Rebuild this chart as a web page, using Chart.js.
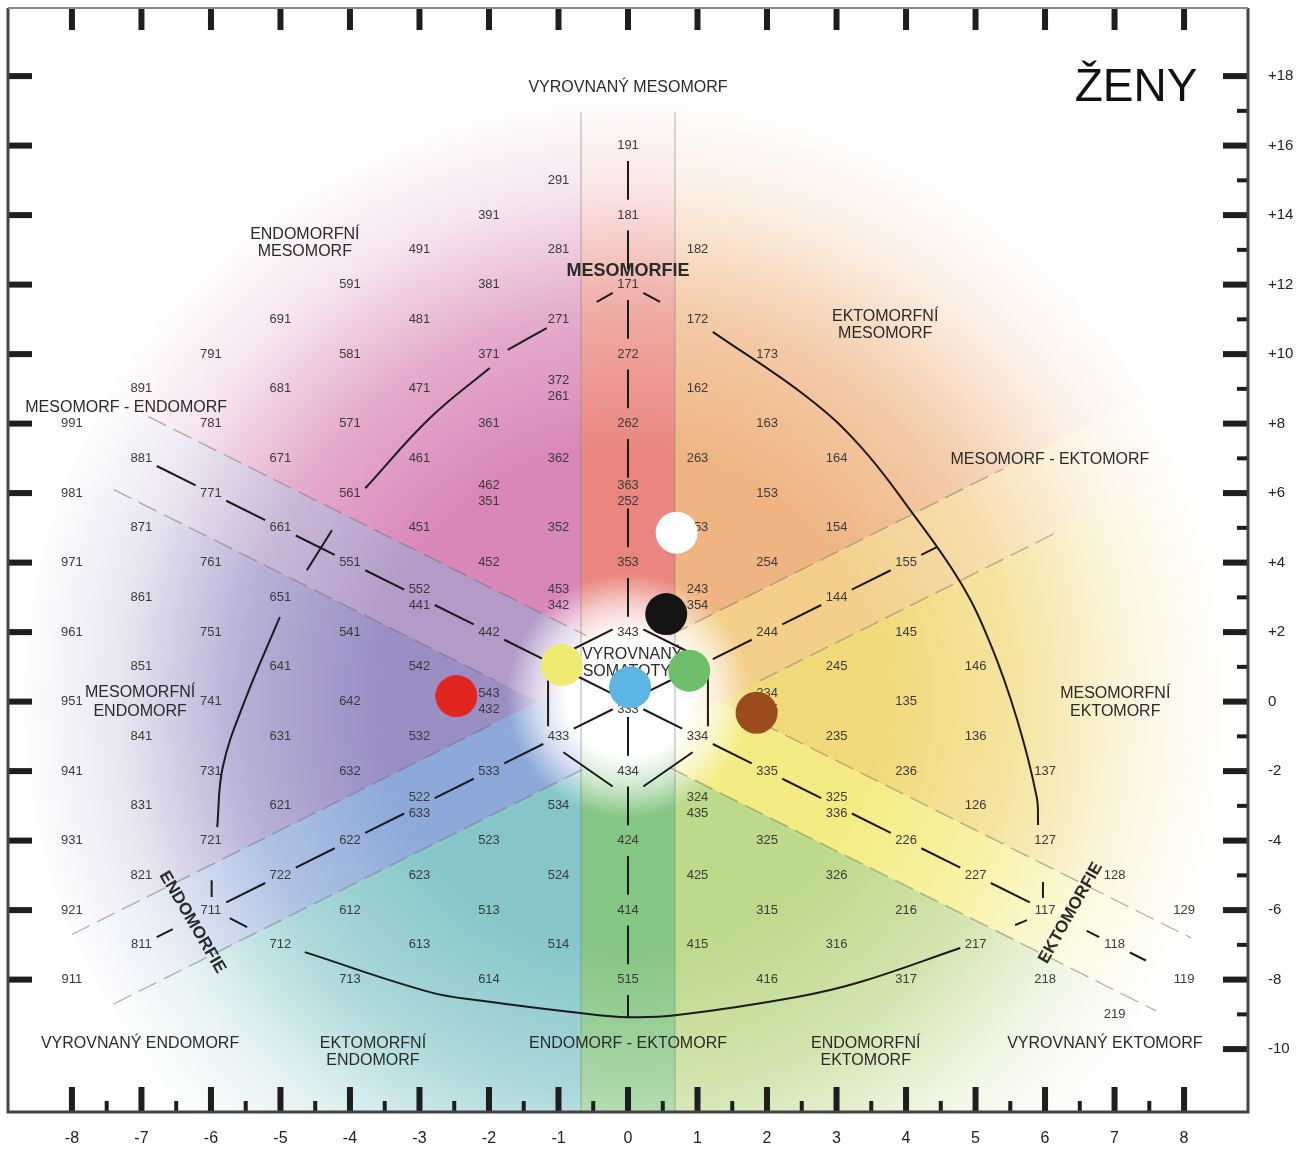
<!DOCTYPE html>
<html>
<head>
<meta charset="utf-8">
<script src="https://cdn.jsdelivr.net/npm/chart.js@4.4.1/dist/chart.umd.min.js"></script>
<style>
  html, body { margin: 0; padding: 0; background: #fff; }
  #wrap { width: 1299px; height: 1149px; position: relative; }
</style>
</head>
<body>
<div id="wrap"><canvas id="chart"></canvas></div>
<script>
const FONT = "'Liberation Sans', Arial, sans-serif";
const X_MIN = -8.92, X_MAX = 8.92;
const Y_MIN = -11.81, Y_MAX = 19.96;
const LABEL_GAP = 0.22;

// axis ticks
const xTickValues = [-8, -7, -6, -5, -4, -3, -2, -1, 0, 1, 2, 3, 4, 5, 6, 7, 8];
const xMinorTicks = [-7.5, -6.5, -5.5, -4.5, -3.5, -2.5, -1.5, -0.5, 0.5, 1.5, 2.5, 3.5, 4.5, 5.5, 6.5, 7.5];
const yTickValues = [18, 16, 14, 12, 10, 8, 6, 4, 2, 0, -2, -4, -6, -8, -10];
const yTickLabels = ["+18", "+16", "+14", "+12", "+10", "+8", "+6", "+4", "+2", "0", "-2", "-4", "-6", "-8", "-10"];
const yMinorTicks = [17, 15, 13, 11, 9, 7, 5, 3, 1, -1, -3, -5, -7, -9];
const leftTickValues = [18, 16, 14, 12, 10, 8, 6, 4, 2, 0, -2, -4, -6, -8];

// measured somatotypes (the coloured dots)
const subjectX = [0.70, 0.55, -0.95, 0.88, 0.03, -2.47, 1.85];
const subjectY = [4.86, 2.52, 1.05, 0.89, 0.41, 0.16, -0.32];
const subjectColors = ["#ffffff", "#141414", "#eeeb70", "#6dbf6b", "#5cb5e3", "#e1251f", "#9c4b1d"];

// somatotype codes printed on the grid: [code, x, y]
const somatotypes = [
  ["191", 0, 16],
  ["291", -1, 15],
  ["391", -2, 14], ["181", 0, 14],
  ["491", -3, 13], ["281", -1, 13], ["182", 1, 13],
  ["591", -4, 12], ["381", -2, 12], ["171", 0, 12],
  ["691", -5, 11], ["481", -3, 11], ["271", -1, 11], ["172", 1, 11],
  ["791", -6, 10], ["581", -4, 10], ["371", -2, 10], ["272", 0, 10], ["173", 2, 10],
  ["891", -7, 9], ["681", -5, 9], ["471", -3, 9], ["372", -1, 9.23], ["261", -1, 8.77], ["162", 1, 9],
  ["991", -8, 8], ["781", -6, 8], ["571", -4, 8], ["361", -2, 8], ["262", 0, 8], ["163", 2, 8],
  ["881", -7, 7], ["671", -5, 7], ["461", -3, 7], ["362", -1, 7], ["263", 1, 7], ["164", 3, 7],
  ["981", -8, 6], ["771", -6, 6], ["561", -4, 6], ["462", -2, 6.23], ["351", -2, 5.77], ["363", 0, 6.23], ["252", 0, 5.77], ["153", 2, 6],
  ["871", -7, 5], ["661", -5, 5], ["451", -3, 5], ["352", -1, 5], ["253", 1, 5], ["154", 3, 5],
  ["971", -8, 4], ["761", -6, 4], ["551", -4, 4], ["452", -2, 4], ["353", 0, 4], ["254", 2, 4], ["155", 4, 4],
  ["861", -7, 3], ["651", -5, 3], ["552", -3, 3.23], ["441", -3, 2.77], ["453", -1, 3.23], ["342", -1, 2.77], ["243", 1, 3.23], ["354", 1, 2.77], ["144", 3, 3],
  ["961", -8, 2], ["751", -6, 2], ["541", -4, 2], ["442", -2, 2], ["343", 0, 2], ["244", 2, 2], ["145", 4, 2],
  ["851", -7, 1], ["641", -5, 1], ["542", -3, 1], ["443", -1, 1], ["344", 1, 1], ["245", 3, 1], ["146", 5, 1],
  ["951", -8, 0], ["741", -6, 0], ["642", -4, 0], ["543", -2, 0.23], ["432", -2, -0.23], ["444", 0, 0.23], ["333", 0, -0.23], ["234", 2, 0.23], ["345", 2, -0.23], ["135", 4, 0],
  ["841", -7, -1], ["631", -5, -1], ["532", -3, -1], ["433", -1, -1], ["334", 1, -1], ["235", 3, -1], ["136", 5, -1],
  ["941", -8, -2], ["731", -6, -2], ["632", -4, -2], ["533", -2, -2], ["434", 0, -2], ["335", 2, -2], ["236", 4, -2], ["137", 6, -2],
  ["831", -7, -3], ["621", -5, -3], ["522", -3, -2.77], ["633", -3, -3.23], ["534", -1, -3], ["324", 1, -2.77], ["435", 1, -3.23], ["325", 3, -2.77], ["336", 3, -3.23], ["126", 5, -3],
  ["931", -8, -4], ["721", -6, -4], ["622", -4, -4], ["523", -2, -4], ["424", 0, -4], ["325", 2, -4], ["226", 4, -4], ["127", 6, -4],
  ["821", -7, -5], ["722", -5, -5], ["623", -3, -5], ["524", -1, -5], ["425", 1, -5], ["326", 3, -5], ["227", 5, -5], ["128", 7, -5],
  ["921", -8, -6], ["711", -6, -6], ["612", -4, -6], ["513", -2, -6], ["414", 0, -6], ["315", 2, -6], ["216", 4, -6], ["117", 6, -6], ["129", 8, -6],
  ["811", -7, -7], ["712", -5, -7], ["613", -3, -7], ["514", -1, -7], ["415", 1, -7], ["316", 3, -7], ["217", 5, -7], ["118", 7, -7],
  ["911", -8, -8], ["713", -4, -8], ["614", -2, -8], ["515", 0, -8], ["416", 2, -8], ["317", 4, -8], ["218", 6, -8], ["119", 8, -8],
  ["219", 7, -9],
];

// region names: [text, x, y, kind]
const regionLabels = [
  ["VYROVNANÝ MESOMORF", 0, 17.68, "region"],
  ["ENDOMORFNÍ", -4.65, 13.45, "region"], ["MESOMORF", -4.65, 12.94, "region"],
  ["MESOMORFIE", 0, 12.39, "axis"],
  ["EKTOMORFNÍ", 3.7, 11.09, "region"], ["MESOMORF", 3.7, 10.58, "region"],
  ["MESOMORF - ENDOMORF", -7.22, 8.47, "region"],
  ["MESOMORF - EKTOMORF", 6.07, 6.97, "region"],
  ["MESOMORFNÍ", -7.02, 0.26, "region"], ["ENDOMORF", -7.02, -0.28, "region"],
  ["MESOMORFNÍ", 7.01, 0.24, "region"], ["EKTOMORF", 7.01, -0.3, "region"],
  ["VYROVNANÝ", 0.06, 1.34, "region"], ["SOMATOTYP", 0.06, 0.85, "region"],
  ["VYROVNANÝ ENDOMORF", -7.02, -9.83, "region"],
  ["EKTOMORFNÍ", -3.67, -9.83, "region"], ["ENDOMORF", -3.67, -10.34, "region"],
  ["ENDOMORF - EKTOMORF", 0, -9.83, "region"],
  ["ENDOMORFNÍ", 3.42, -9.83, "region"], ["EKTOMORF", 3.42, -10.34, "region"],
  ["VYROVNANÝ EKTOMORF", 6.86, -9.83, "region"],
];
const rotatedLabels = [
  ["ENDOMORFIE", -6.27, -6.35, 59.5],
  ["EKTOMORFIE", 6.37, -6.08, -60.5],
];

// guide axes through the label nodes (null = break, third value 0 = not a label)
const axisVertical = [[0, 16], [0, 14], [0, 12], [0, 10], [0, 8], [0, 6], [0, 4], [0, 2], null,
  [0, 0], [0, -2], [0, -4], [0, -6], [0, -8], [0, -9.08, 0]];
const axisFalling = [[-7, 7], [-6, 6], [-5, 5], [-4, 4], [-3, 3], [-2, 2], [-1, 1], [0, 0], [1, -1],
  [2, -2], [3, -3], [4, -4], [5, -5], [6, -6], null, [6.6, -6.6, 0], [7, -7], [7.45, -7.45, 0]];
const axisRising = [[-7, -7], [-6.55, -6.55, 0], null, [-6, -6], [-5, -5], [-4, -4], [-3, -3], [-2, -2],
  [-1, -1], [0, 0], [1, 1], [2, 2], [3, 3], [4, 4], [4.45, 4.45, 0]];
const hexagon = [[0, 2.3], [-1.15, 1.15], [-1.15, -1.15], [0, -2.75], [1.15, -1.15], [1.15, 1.15], [0, 2.3]];

// boundary arcs (null = gap at a label)
const arcMesoEndo = [[-0.22, 11.76], [-0.45, 11.5], null,
  [-1.17, 10.75], [-1.73, 10.12], null,
  [-1.99, 9.6], [-2.85, 8.16], [-3.78, 6.14], null,
  [-4.26, 4.93], [-4.62, 3.78], null,
  [-5.01, 2.43], [-5.51, 0.04], [-5.83, -1.88], [-5.91, -3.61], null,
  [-5.99, -5.14], [-5.99, -5.62]];
const arcMesoEcto = [[0.22, 11.76], [0.46, 11.5], null,
  [1.22, 10.64], [2.58, 8.76], [3.34, 7.35], [4.06, 5.51], [4.78, 3.44], [5.21, 1.68], [5.6, -0.53], [5.88, -2.75], [5.9, -3.55], null,
  [5.97, -5.19], [5.97, -5.65]];
const arcEndoEcto = [[-5.73, -6.23], [-5.48, -6.49], null,
  [-4.65, -7.21], [-2.85, -8.36], [-2.13, -8.6], [-0.69, -8.96], [0, -9.08], [0.71, -9.02], [2.43, -8.5], [3.34, -8.07], [4.78, -7.09], null,
  [5.57, -6.43], [5.74, -6.29]];

// dashed grey band edges
const bandEdges = [
  [[-6.9, 8.2], [-0.6, 1.9]], [[-7.4, 6.1], [-1.9, 0.6]],
  [[1.9, -0.6], [8.1, -6.8]], [[0.6, -1.9], [7.6, -8.9]],
  [[-8.0, -6.7], [-1.9, -0.6]], [[-7.4, -8.7], [-0.6, -1.9]],
  [[0.6, 1.9], [5.4, 6.7]], [[1.9, 0.6], [6.2, 4.9]],
];

// colour fields of the somatochart
const sectorFills = [
  [[[0, 0], [0, 40], [-40, 40]], "#d986b8"],
  [[[0, 0], [-40, 40], [-40, -40]], "#9a8ec5"],
  [[[0, 0], [-40, -40], [0, -40]], "#86c6ca"],
  [[[0, 0], [0, -40], [40, -40]], "#bdd98a"],
  [[[0, 0], [40, -40], [40, 40]], "#f1d979"],
  [[[0, 0], [40, 40], [0, 40]], "#efb482"],
  [[[0.65, 0.65], [-40, 41.3], [-40, 38.7], [-0.65, -0.65]], "#b39ac8"],
  [[[0.65, 0.65], [40, -38.7], [40, -41.3], [-0.65, -0.65]], "#f4ec82"],
  [[[-0.65, 0.65], [-40, -38.7], [-40, -41.3], [0.65, -0.65]], "#8ea8d9"],
  [[[-0.65, 0.65], [40, 41.3], [40, 38.7], [0.65, -0.65]], "#f3cf8a"],
  [[[-0.676, 0], [0.676, 0], [0.676, 40], [-0.676, 40]], "#ea867f"],
  [[[-0.676, 0], [0.676, 0], [0.676, -40], [-0.676, -40]], "#86c684"],
];

function toSegments(nodes) {
  const out = [];
  for (let i = 0; i < nodes.length - 1; i++) {
    const a = nodes[i], b = nodes[i + 1];
    if (!a || !b) continue;
    const dx = b[0] - a[0], dy = b[1] - a[1];
    const steps = Math.max(Math.abs(dx), Math.abs(dy) / 2);
    const t0 = a[2] === 0 ? 0 : LABEL_GAP / steps;
    const t1 = b[2] === 0 ? 1 : 1 - LABEL_GAP / steps;
    out.push({ x: a[0] + dx * t0, y: a[1] + dy * t0 },
             { x: a[0] + dx * t1, y: a[1] + dy * t1 },
             { x: null, y: null });
  }
  return out;
}

const toPoints = (arr) => arr.map((p) => (p ? { x: p[0], y: p[1] } : { x: null, y: null }));

// scales keep their own label padding out of the layout
function fixScale(s, key, size) {
  s[key] = size;
  s.paddingTop = 0;
  s.paddingBottom = 0;
  s.paddingLeft = 0;
  s.paddingRight = 0;
}

const somatoPlugin = {
  id: "somatochart",
  beforeDraw(chart) {
    const { ctx, width, height } = chart;
    ctx.save();
    ctx.fillStyle = "#ffffff";
    ctx.fillRect(0, 0, width, height);
    ctx.restore();
  },
  beforeDatasetsDraw(chart) {
    const { ctx, chartArea: a, scales: { x, y } } = chart;
    const px = (p) => [x.getPixelForValue(p[0]), y.getPixelForValue(p[1])];
    ctx.save();
    ctx.beginPath();
    ctx.rect(a.left, a.top, a.right - a.left, a.bottom - a.top);
    ctx.clip();

    sectorFills.forEach(([pts, color]) => {
      ctx.beginPath();
      pts.forEach((p, i) => {
        const [u, v] = px(p);
        if (i === 0) ctx.moveTo(u, v); else ctx.lineTo(u, v);
      });
      ctx.closePath();
      ctx.fillStyle = color;
      ctx.fill();
    });

    // fade out to white towards the rim
    const [cx, cy] = px([0, 0]);
    const fade = ctx.createRadialGradient(cx, cy, 0, cx, cy, 640);
    fade.addColorStop(0, "rgba(255,255,255,0)");
    fade.addColorStop(250 / 640, "rgba(255,255,255,0)");
    fade.addColorStop(390 / 640, "rgba(255,255,255,0.3)");
    fade.addColorStop(510 / 640, "rgba(255,255,255,0.78)");
    fade.addColorStop(610 / 640, "rgba(255,255,255,1)");
    fade.addColorStop(1, "rgba(255,255,255,1)");
    ctx.fillStyle = fade;
    ctx.fillRect(a.left, a.top, a.right - a.left, a.bottom - a.top);

    // white glow in the centre
    const glow = ctx.createRadialGradient(cx, cy - 6, 0, cx, cy - 6, 122);
    glow.addColorStop(0, "rgba(255,255,255,1)");
    glow.addColorStop(0.5, "rgba(255,255,255,1)");
    glow.addColorStop(0.75, "rgba(255,255,255,0.6)");
    glow.addColorStop(1, "rgba(255,255,255,0)");
    ctx.fillStyle = glow;
    ctx.fillRect(a.left, a.top, a.right - a.left, a.bottom - a.top);

    // band edges
    ctx.strokeStyle = "rgba(110,110,110,0.55)";
    ctx.lineWidth = 1.2;
    ctx.setLineDash([20, 8]);
    bandEdges.forEach(([p, q]) => {
      const [u1, v1] = px(p), [u2, v2] = px(q);
      ctx.beginPath(); ctx.moveTo(u1, v1); ctx.lineTo(u2, v2); ctx.stroke();
    });
    ctx.setLineDash([]);
    ctx.strokeStyle = "rgba(140,140,140,0.45)";
    ctx.lineWidth = 1.5;
    [-0.676, 0.676].forEach((vx) => {
      const [u1, v1] = px([vx, 16.96]), [u2, v2] = px([vx, Y_MIN]);
      ctx.beginPath(); ctx.moveTo(u1, v1); ctx.lineTo(u2, v2); ctx.stroke();
    });

    // somatotype codes
    ctx.textAlign = "center";
    ctx.textBaseline = "middle";
    ctx.fillStyle = "#3b3b3b";
    ctx.font = "13px " + FONT;
    somatotypes.forEach(([code, vx, vy]) => {
      const [u, v] = px([vx, vy]);
      ctx.fillText(code, u, v);
    });

    // region names
    ctx.fillStyle = "#2a2a2a";
    regionLabels.forEach(([text, vx, vy, kind]) => {
      const [u, v] = px([vx, vy]);
      ctx.font = kind === "axis" ? "bold 18px " + FONT : "16px " + FONT;
      ctx.fillText(text, u, v);
    });
    ctx.font = "bold 17px " + FONT;
    rotatedLabels.forEach(([text, vx, vy, deg]) => {
      const [u, v] = px([vx, vy]);
      ctx.save();
      ctx.translate(u, v);
      ctx.rotate(deg * Math.PI / 180);
      ctx.fillText(text, 0, 0);
      ctx.restore();
    });

    ctx.font = "46px " + FONT;
    ctx.fillStyle = "#111";
    ctx.fillText("ŽENY", 1136, 88);
    ctx.restore();
  },
  afterDraw(chart) {
    const { ctx, chartArea: a, scales: { x, y } } = chart;
    ctx.save();
    ctx.fillStyle = "#1e1e1e";
    xTickValues.forEach((v) => {
      const u = x.getPixelForValue(v);
      ctx.fillRect(u - 3, a.top, 6, 22);
      ctx.fillRect(u - 3, a.bottom - 25, 6, 25);
    });
    xMinorTicks.forEach((v) => {
      const u = x.getPixelForValue(v);
      ctx.fillRect(u - 2, a.bottom - 11, 4, 11);
    });
    leftTickValues.forEach((v) => {
      const w = y.getPixelForValue(v);
      ctx.fillRect(a.left, w - 3, 24, 6);
    });
    yTickValues.forEach((v) => {
      const w = y.getPixelForValue(v);
      ctx.fillRect(a.right - 25, w - 3, 25, 6);
    });
    yMinorTicks.forEach((v) => {
      const w = y.getPixelForValue(v);
      ctx.fillRect(a.right - 11, w - 2, 11, 4);
    });
    ctx.strokeStyle = "#444";
    ctx.lineWidth = 3;
    ctx.beginPath();
    ctx.moveTo(a.left, a.top);
    ctx.lineTo(a.left, a.bottom);
    ctx.lineTo(a.right, a.bottom);
    ctx.lineTo(a.right, a.top);
    ctx.stroke();
    ctx.strokeStyle = "#888";
    ctx.lineWidth = 2;
    ctx.beginPath();
    ctx.moveTo(a.left, a.top);
    ctx.lineTo(a.right, a.top);
    ctx.stroke();
    ctx.restore();
  },
};

const lineStyle = { borderColor: "#1b1b1b", borderWidth: 2, pointRadius: 0, fill: false, spanGaps: false, order: 1 };

new Chart(document.getElementById("chart"), {
  type: "line",
  data: {
    datasets: [
      {
        label: "Ženy",
        data: subjectX.map((vx, i) => ({ x: vx, y: subjectY[i] })),
        showLine: false,
        pointRadius: 21,
        pointHoverRadius: 21,
        pointBackgroundColor: subjectColors,
        pointBorderWidth: 0,
        order: 0,
      },
      { ...lineStyle, data: toSegments(axisVertical) },
      { ...lineStyle, data: toSegments(axisFalling) },
      { ...lineStyle, data: toSegments(axisRising) },
      { ...lineStyle, data: toSegments(hexagon) },
      { ...lineStyle, data: toPoints(arcMesoEndo), tension: 0.4 },
      { ...lineStyle, data: toPoints(arcMesoEcto), tension: 0.4 },
      { ...lineStyle, data: toPoints(arcEndoEcto), tension: 0.4 },
    ],
  },
  options: {
    responsive: true,
    maintainAspectRatio: false,
    animation: false,
    events: [],
    layout: { autoPadding: false, padding: { left: 8, top: 8, right: 0, bottom: 0 } },
    plugins: { legend: { display: false }, tooltip: { enabled: false } },
    scales: {
      x: {
        type: "linear",
        position: "bottom",
        min: X_MIN,
        max: X_MAX,
        grid: { display: false, drawTicks: false },
        border: { display: false },
        afterBuildTicks: (s) => { s.ticks = xTickValues.map((v) => ({ value: v })); },
        afterFit: (s) => fixScale(s, "height", 37),
        ticks: {
          autoSkip: false,
          maxRotation: 0,
          padding: 17,
          color: "#222",
          font: { family: FONT, size: 16 },
          callback: (v) => String(v),
        },
      },
      y: {
        type: "linear",
        position: "right",
        min: Y_MIN,
        max: Y_MAX,
        grid: { display: false, drawTicks: false },
        border: { display: false },
        afterBuildTicks: (s) => { s.ticks = yTickValues.map((v) => ({ value: v })); },
        afterFit: (s) => fixScale(s, "width", 51),
        ticks: {
          autoSkip: false,
          padding: 20,
          color: "#222",
          font: { family: FONT, size: 15 },
          callback: (v) => yTickLabels[yTickValues.indexOf(v)],
        },
      },
    },
  },
  plugins: [somatoPlugin],
});
</script>
</body>
</html>
